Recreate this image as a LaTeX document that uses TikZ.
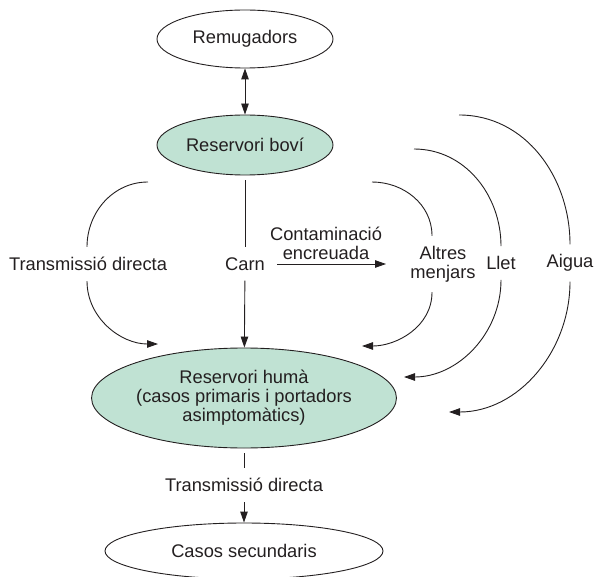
\documentclass[tikz,border=0pt]{standalone}
\usepackage{fontspec}
\setmainfont{Liberation Sans}
\usetikzlibrary{shapes.geometric,arrows.meta}
\definecolor{boxgreen}{RGB}{192,226,211}
\definecolor{ink}{RGB}{35,31,32}
\begin{document}
\begin{tikzpicture}[x=1pt,y=-1pt,
  every node/.style={font=\fontsize{18.3}{19}\selectfont, text=ink},
  ell/.style={ellipse, draw=ink, line width=0.9pt, inner sep=0pt},
  lab/.style={align=center, inner xsep=2pt, inner ysep=10pt},
  ln/.style={draw=ink, line width=0.9pt},
  arr/.style={ln, -{Triangle[length=11pt,width=7.5pt]}},
  darr/.style={ln, {Triangle[length=11pt,width=7.5pt]}-{Triangle[length=11pt,width=7.5pt]}}]
\useasboundingbox (0,0) rectangle (594,577);
% main nodes
\node[ell, minimum width=176pt, minimum height=58pt] (rem) at (245,39) {Remugadors};
\node[ell, fill=boxgreen, minimum width=176pt, minimum height=60pt] (bov) at (245,145) {Reservori boví};
\node[ell, fill=boxgreen, minimum width=256pt, minimum height=100pt, align=center] (hum) at (244,398) {Reservori humà\\(casos primaris i portadors\\asimptomàtics)};
\node[ell, minimum width=278pt, minimum height=56pt] (sec) at (244,551) {Casos secundaris};
% labels
\node[lab] (tdl) at (88,264) {Transmissió directa};
\node[lab] (carn) at (245,264) {Carn};
\node[align=center, inner sep=1pt, anchor=south] (cont) at (326,261) {Contaminació\\encreuada};
\node[lab] (altres) at (443,264) {Altres\\menjars};
\node[lab] (llet) at (501,263) {Llet};
\node[lab] (aigua) at (570,263) {Aigua};
\node[lab] (tdb) at (244,485) {Transmissió directa};
% free ends
\coordinate (ls) at (148,182);
\coordinate (le) at (158,344);
\coordinate (as) at (372,182);
\coordinate (ae) at (362,346);
\coordinate (lls) at (414,149);
\coordinate (lle) at (404,377);
\coordinate (ags) at (459,115);
\coordinate (age) at (449,412);
\coordinate (c1) at (277,264);
\coordinate (c2) at (386,264);
% connectors
\draw[darr] (rem) -- (bov);
\draw[ln, shorten <=5pt] (bov) -- (carn);
\draw[arr] (carn) -- (hum);
\draw[ln, shorten <=5pt] (hum) -- (tdb);
\draw[arr] (tdb) -- (sec);
\draw[arr] (c1) -- (c2);
\draw[ln] (ls) to[out=180,in=90] ([xshift=-1pt]tdl.north);
\draw[arr] ([xshift=-1pt]tdl.south) to[out=-90,in=180] (le);
\draw[ln] (as) to[out=0,in=90] ([xshift=-11pt]altres.north);
\draw[arr] ([xshift=-11pt]altres.south) to[out=-90,in=0] (ae);
\draw[ln] (lls) to[out=0,in=90] (llet.north);
\draw[arr] (llet.south) to[out=-90,in=0] (lle);
\draw[ln] (ags) to[out=0,in=90] (aigua.north);
\draw[arr] (aigua.south) to[out=-90,in=0] (age);
\end{tikzpicture}
\end{document}
